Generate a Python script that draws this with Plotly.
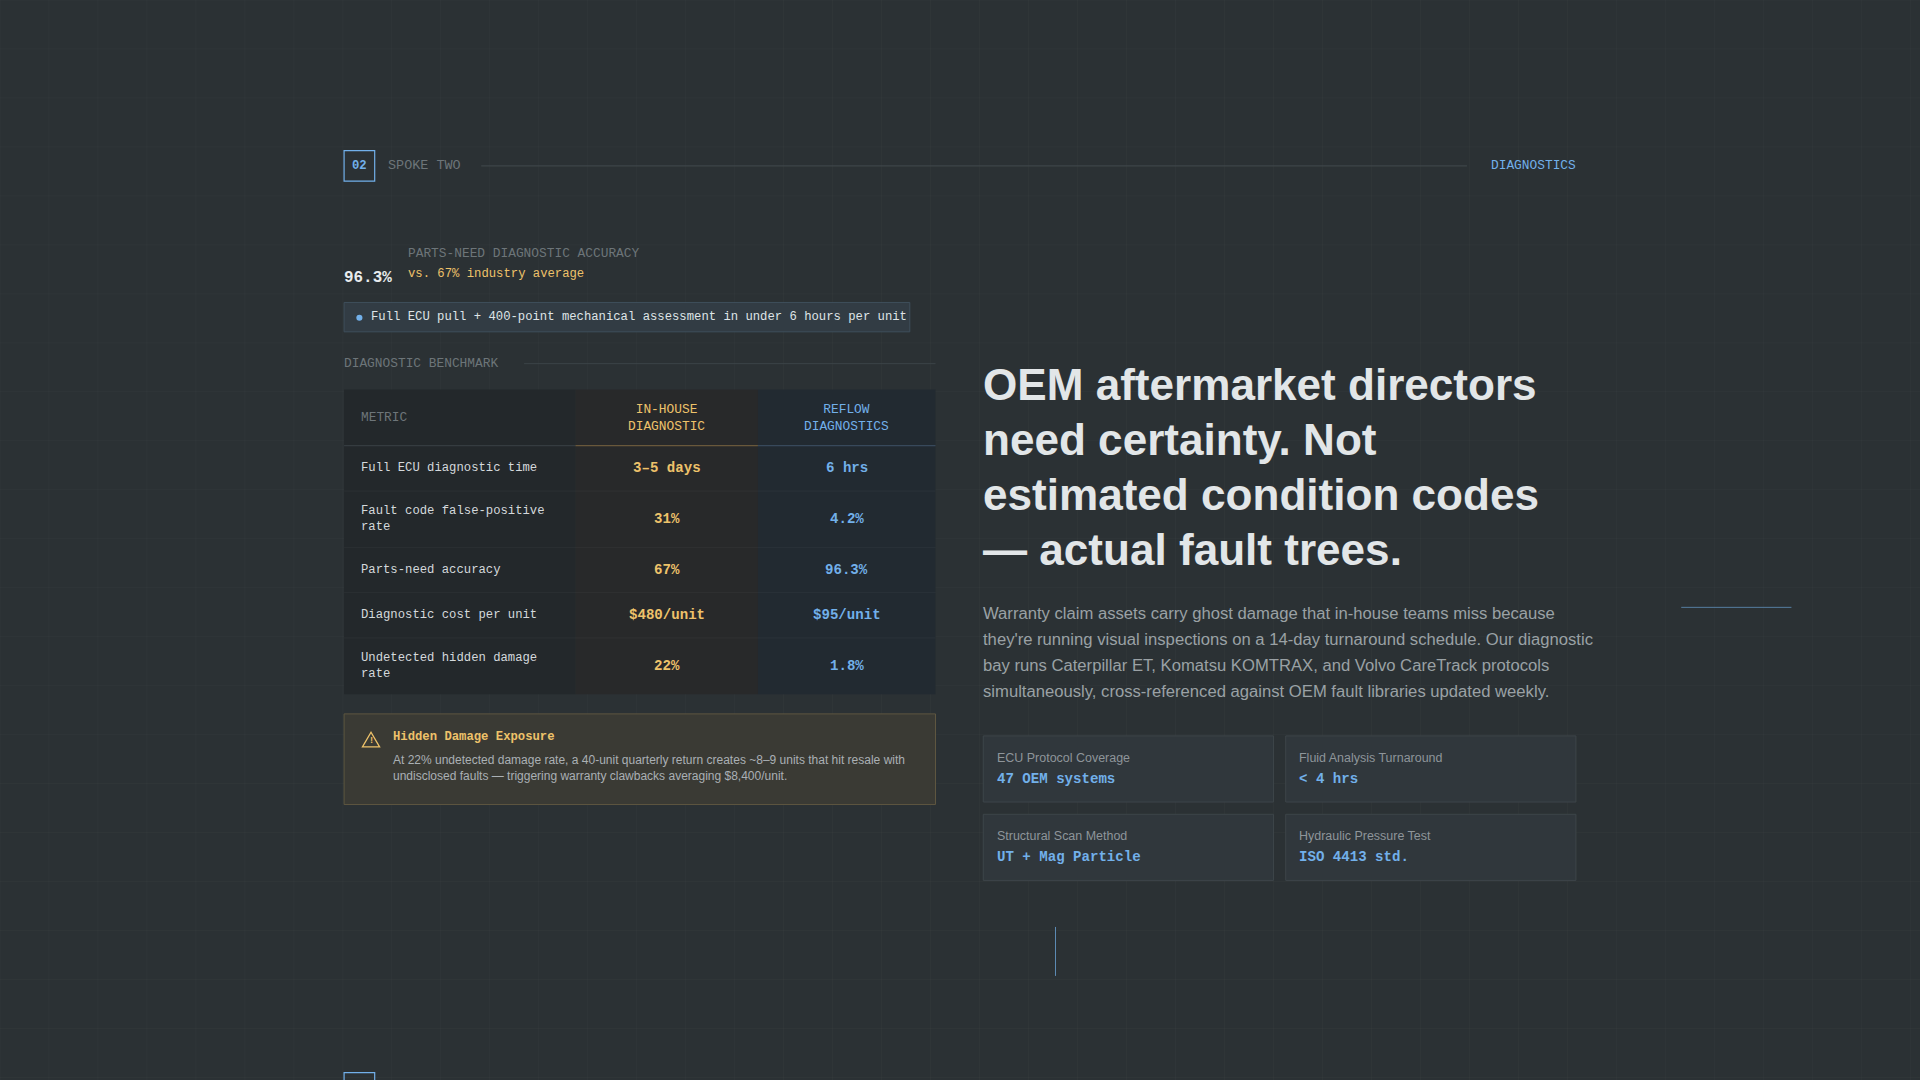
import plotly.graph_objects as go

S = 1920/1568
MONO = "Liberation Mono"
SANS = "Liberation Sans"
GOLD = "#eec26a"
BLUE = "#72b0ea"
BG = "#2b3134"

metrics = ["Full ECU diagnostic time", "Fault code false-positive<br>rate", "Parts-need accuracy",
           "Diagnostic cost per unit", "Undetected hidden damage<br>rate"]
inhouse = ["3–5 days", "31%", "67%", "$480/unit", "22%"]
reflow = ["6 hrs", "4.2%", "96.3%", "$95/unit", "1.8%"]
row_edges = [364, 401, 447, 484, 521, 567]
spec_labels = ["ECU Protocol Coverage", "Fluid Analysis Turnaround", "Structural Scan Method", "Hydraulic Pressure Test"]
spec_values = ["47 OEM systems", "< 4 hrs", "UT + Mag Particle", "ISO 4413 std."]
body_lines = ["Warranty claim assets carry ghost damage that in-house teams miss because",
              "they're running visual inspections on a 14-day turnaround schedule. Our diagnostic",
              "bay runs Caterpillar ET, Komatsu KOMTRAX, and Volvo CareTrack protocols",
              "simultaneously, cross-referenced against OEM fault libraries updated weekly."]
title_lines = ["OEM aftermarket directors", "need certainty. Not", "estimated condition codes", "— actual fault trees."]

fig = go.Figure()
shapes, ann = [], []

def rect(x0, y0, x1, y1, fill=None, line=None, w=1):
    shapes.append(dict(type="rect", x0=x0, y0=y0, x1=x1, y1=y1, layer="below",
                       fillcolor=fill or "rgba(0,0,0,0)",
                       line=dict(color=line or "rgba(0,0,0,0)", width=w)))

def line(x0, y0, x1, y1, c, w=1):
    shapes.append(dict(type="line", x0=x0, y0=y0, x1=x1, y1=y1, layer="below", line=dict(color=c, width=w)))

def text(x, y, t, size, color, font=MONO, xa="left", bold=False):
    if bold:
        t = "<b>" + t + "</b>"
    dx = -1.5 if xa == "left" else (1.5 if xa == "right" else 0)
    ann.append(dict(x=x + dx, y=y, text=t, showarrow=False, xanchor=xa, yanchor="middle",
                    font=dict(family=font, size=size*S, color=color), align=xa if xa != "middle" else "center"))

g = 0
while g <= 1568:
    line(g, 0, g, 882, "rgba(255,255,255,0.025)")
    g += 40
g = 0
while g <= 882:
    line(0, g, 1568, g, "rgba(255,255,255,0.025)")
    g += 40

rect(281, 123, 306, 148, line=BLUE, w=1.2)
text(293.5, 135.5, "02", 10, BLUE, xa="center", bold=True)
text(317, 135.5, "SPOKE TWO", 11, "#6d7579")
line(393, 135.5, 1198, 135.5, "#424a4e")
text(1287, 135.5, "DIAGNOSTICS", 10.5, BLUE, xa="right")

text(281, 227, "96.3%", 13, "#e8ecee", bold=True)
text(333, 207, "PARTS-NEED DIAGNOSTIC ACCURACY", 10.5, "#6d7579")
text(333, 224, "vs. 67% industry average", 10, GOLD)
rect(281, 247, 743, 271, fill="#323c44", line="#3f4f5c")
shapes.append(dict(type="circle", x0=291, y0=257, x1=296, y1=262, fillcolor=BLUE, line=dict(width=0)))
text(303, 259, "Full ECU pull + 400-point mechanical assessment in under 6 hours per unit", 10, "#dfe4e7")

text(281, 297, "DIAGNOSTIC BENCHMARK", 10.5, "#6d7579")
line(428, 297, 764, 297, "#3c4448")

rect(281, 318, 470, 567, fill="#23282b")
rect(470, 318, 619, 567, fill="#28292a")
rect(619, 318, 764, 567, fill="#222a31")
line(281, 364, 470, 364, "#3a4247")
line(470, 364, 619, 364, "#7a6540")
line(619, 364, 764, 364, "#3e5266")
text(295, 341, "METRIC", 10.5, "#6d7579")
text(544.5, 341, "IN-HOUSE<br>DIAGNOSTIC", 10.5, GOLD, xa="center")
text(691.5, 341, "REFLOW<br>DIAGNOSTICS", 10.5, BLUE, xa="center")
for i, m in enumerate(metrics):
    yc = (row_edges[i] + row_edges[i+1]) / 2
    if i > 0:
        line(281, row_edges[i], 764, row_edges[i], "rgba(255,255,255,0.04)")
    text(295, yc, m, 10, "#d4d9dc")
    text(544.5, yc, inhouse[i], 11.5, GOLD, xa="center", bold=True)
    text(691.5, yc, reflow[i], 11.5, BLUE, xa="center", bold=True)

rect(281, 583, 764, 657, fill="#3a3a34", line="#5e5640")
shapes.append(dict(type="path", path="M 303 598 L 310 610 L 296 610 Z", line=dict(color=GOLD, width=1.3)))
text(303, 605, "!", 7, GOLD, xa="center", bold=True)
text(321, 602, "Hidden Damage Exposure", 10, GOLD, bold=True)
text(321, 627.5, "At 22% undetected damage rate, a 40-unit quarterly return creates ~8–9 units that hit resale with<br>undisclosed faults — triggering warranty clawbacks averaging $8,400/unit.", 9.8, "#aab0b4", font=SANS)

for i, t in enumerate(title_lines):
    text(803, 314 + i*45, t, 36, "#e2e6e8", font=SANS, bold=True)
for i, t in enumerate(body_lines):
    text(803, 501 + i*21.3, t, 13.6, "#9aa1a5", font=SANS)

boxes = [(803, 601, 1040, 655), (1050, 601, 1287, 655), (803, 665, 1040, 719), (1050, 665, 1287, 719)]
for (x0, y0, x1, y1), lab, val in zip(boxes, spec_labels, spec_values):
    rect(x0, y0, x1, y1, fill="#30373c", line="#3d4549")
    text(x0 + 11, y0 + 18, lab, 10.2, "#8e959a", font=SANS)
    text(x0 + 11, y0 + 35, val, 11.5, BLUE, bold=True)

line(1373, 496, 1463, 496, "rgba(114,176,234,0.6)")
line(862, 757, 862, 797, "rgba(114,176,234,0.7)")
rect(281, 876, 306, 900, line=BLUE, w=1.2)

fig.update_layout(width=1920, height=1080, margin=dict(l=0, r=0, t=0, b=0),
                  paper_bgcolor=BG, plot_bgcolor=BG, shapes=shapes, annotations=ann, showlegend=False,
                  xaxis=dict(range=[0, 1568], visible=False, fixedrange=True),
                  yaxis=dict(range=[882, 0], visible=False, fixedrange=True))
fig.write_html("out.html", config={"displayModeBar": False})

with open("out.html", encoding="utf-8") as f:
    html = f.read()
html = html.replace("<head>", "<head><style>html,body{margin:0;padding:0;overflow:hidden;background:%s}</style>" % BG, 1)
with open("out.html", "w", encoding="utf-8") as f:
    f.write(html)
